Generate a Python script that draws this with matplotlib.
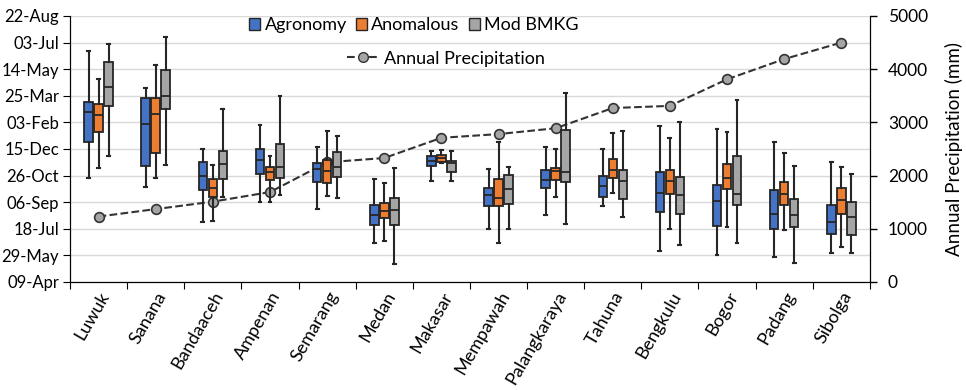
import numpy as np
import matplotlib
matplotlib.use("Agg")
import matplotlib.pyplot as plt
from matplotlib.patches import Patch
from matplotlib.lines import Line2D
from matplotlib.ticker import MultipleLocator

plt.rcParams['font.family'] = ['Lato', 'DejaVu Sans']

# stations along the x axis
stations = ['Luwuk', 'Sanana', 'Bandaaceh', 'Ampenan', 'Semarang', 'Medan', 'Makasar',
            'Mempawah', 'Palangkaraya', 'Tahuna', 'Bengkulu', 'Bogor', 'Padang', 'Sibolga']

# onset date, days after 09-Apr: [whisker low, q1, median, q3, whisker high]
agronomy = [[195, 263, 319, 339, 435], [179, 218, 297, 345, 365], [113, 172, 199, 225, 250],
            [151, 203, 229, 250, 295], [138, 187, 212, 223, 253], [74, 108, 125, 145, 193],
            [189, 218, 228, 237, 246], [99, 143, 163, 176, 212], [125, 176, 192, 211, 253],
            [143, 160, 181, 199, 250], [58, 131, 168, 206, 294], [50, 105, 153, 182, 288],
            [46, 99, 127, 172, 263], [54, 90, 112, 145, 226]]
anomalous = [[214, 282, 314, 335, 381], [196, 242, 315, 345, 407], [115, 159, 177, 194, 220],
             [151, 191, 206, 216, 237], [162, 186, 209, 229, 283], [77, 121, 134, 149, 186],
             [223, 225, 233, 238, 248], [74, 143, 157, 194, 263], [160, 192, 209, 215, 250],
             [167, 196, 210, 231, 280], [99, 165, 189, 211, 271], [103, 174, 196, 221, 282],
             [97, 145, 166, 187, 242], [66, 128, 154, 176, 216]]
mod_bmkg = [[237, 331, 367, 414, 447], [219, 325, 350, 399, 461], [160, 194, 221, 247, 325],
            [164, 196, 217, 259, 350], [157, 197, 216, 245, 275], [34, 107, 135, 157, 215],
            [189, 207, 224, 228, 247], [99, 147, 174, 202, 217], [109, 188, 207, 286, 355],
            [122, 156, 189, 210, 284], [70, 127, 164, 198, 300], [73, 144, 166, 237, 342],
            [36, 104, 125, 156, 218], [55, 88, 122, 150, 203]]

# annual precipitation (mm)
precip = [1230, 1370, 1510, 1690, 2250, 2330, 2710, 2780, 2890, 3270, 3310, 3810, 4190, 4500]

date_labels = ['09-Apr', '29-May', '18-Jul', '06-Sep', '26-Oct', '15-Dec',
               '03-Feb', '25-Mar', '14-May', '03-Jul', '22-Aug']

series = [('Agronomy', agronomy, '#4472C4'),
          ('Anomalous', anomalous, '#ED7D31'),
          ('Mod BMKG', mod_bmkg, '#A5A5A5')]

fig = plt.figure(figsize=(9.66, 3.9), dpi=100)
ax = fig.add_axes([0.0725, 0.277, 0.828, 0.682])
ax2 = ax.twinx()

# precipitation axis sits behind the boxes
ax.set_zorder(ax2.get_zorder() + 1)
ax.patch.set_visible(False)

x = np.arange(len(stations))
ax2.plot(x, precip, linestyle='--', color='#333333', linewidth=1.5, marker='o',
         markersize=7, markerfacecolor='#A5A5A5', markeredgecolor='#333333',
         markeredgewidth=1.2, zorder=2)
ax2.set_ylim(0, 5000)
ax2.yaxis.set_major_locator(MultipleLocator(1000))
ax2.yaxis.set_minor_locator(MultipleLocator(500))
ax2.grid(True, which='both', axis='y', color='#D9D9D9', linewidth=1)
ax2.tick_params(axis='y', which='minor', length=0)
ax2.tick_params(axis='y', which='major', length=5, labelsize=12.5, width=1, pad=8)
ax2.set_ylabel('Annual Precipitation (mm)', fontsize=13.5, labelpad=12)

offsets = [-0.175, 0.0, 0.175]
for (name, vals, col), off in zip(series, offsets):
    stats = [dict(whislo=v[0], q1=v[1], med=v[2], q3=v[3], whishi=v[4]) for v in vals]
    ax.bxp(stats, positions=x + off, widths=0.15, patch_artist=True,
           showfliers=False, manage_ticks=False, capwidths=0.05,
           boxprops=dict(facecolor=col, edgecolor='#262626', linewidth=1.3),
           medianprops=dict(color='#262626', linewidth=1.3),
           whiskerprops=dict(color='#262626', linewidth=1.5),
           capprops=dict(color='#262626', linewidth=1.5))

ax.set_xlim(-0.5, len(stations) - 0.5)
ax.set_ylim(0, 500)
ax.set_yticks(np.arange(0, 501, 50))
ax.set_yticklabels(date_labels)
ax.tick_params(axis='y', length=5, labelsize=12, pad=3)

ax.set_xticks(np.arange(-0.5, len(stations), 1.0))
ax.set_xticklabels([])
ax.tick_params(axis='x', which='major', length=5)
ax.set_xticks(x, minor=True)
ax.set_xticklabels(stations, minor=True, rotation=60, ha='right',
                   rotation_mode='anchor', fontsize=13)
ax.tick_params(axis='x', which='minor', length=0, pad=5)

for a in (ax, ax2):
    a.spines['top'].set_visible(False)
    for s in ('left', 'right', 'bottom'):
        a.spines[s].set_color('black')

box_handles = [Patch(facecolor=c, edgecolor='#262626', label=n) for n, _, c in series]
leg1 = ax.legend(handles=box_handles, loc='center', bbox_to_anchor=(0.43, 0.965),
                 ncol=3, frameon=False, fontsize=13, handlelength=0.6, handleheight=0.6,
                 handletextpad=0.25, columnspacing=0.5, borderaxespad=0)
ax.add_artist(leg1)
line_handle = Line2D([], [], linestyle='--', color='#333333', marker='o', markersize=7,
                     markerfacecolor='#A5A5A5', markeredgecolor='#333333',
                     label='Annual Precipitation')
ax.legend(handles=[line_handle], loc='center', bbox_to_anchor=(0.47, 0.84),
          frameon=False, fontsize=13, handlelength=1.8, handletextpad=0.3,
          borderaxespad=0)

fig.savefig('out.png', dpi=100)
